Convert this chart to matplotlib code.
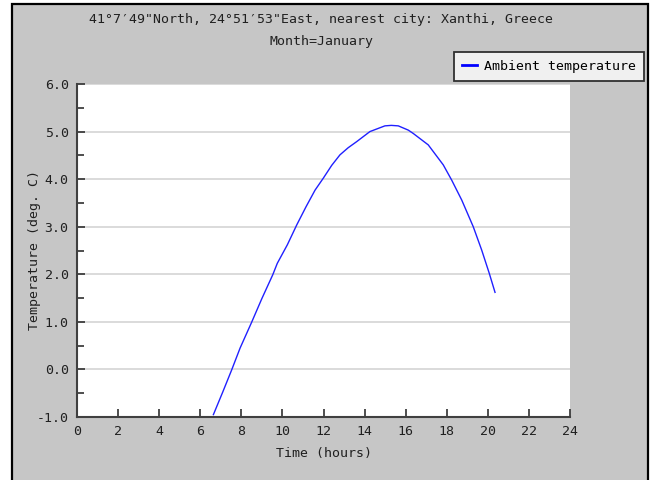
import matplotlib
matplotlib.use("Agg")
import matplotlib.pyplot as plt
from matplotlib.patches import Rectangle
from matplotlib.ticker import MultipleLocator, FormatStrFormatter

hours = [6.64, 7.1, 7.53, 7.94, 8.50, 9.0, 9.53, 9.75, 10.24, 10.70, 11.15, 11.59,
         11.99, 12.4, 12.80, 13.2, 13.62, 14.26, 14.99, 15.3, 15.64, 16.13, 16.37,
         17.10, 17.83, 18.24, 18.73, 19.29, 19.70, 20.07, 20.35]
temps = [-0.95, -0.47, -0.01, 0.45, 0.99, 1.49, 1.99, 2.23, 2.62, 3.04, 3.42, 3.77,
         4.02, 4.29, 4.51, 4.66, 4.79, 5.0, 5.12, 5.13, 5.12, 5.03, 4.96,
         4.72, 4.30, 3.98, 3.56, 3.0, 2.51, 2.02, 1.62]
series_name = "Ambient temperature"
title_lines = ["41°7′49\"North, 24°51′53\"East, nearest city: Xanthi, Greece",
               "Month=January"]
xlabel = "Time (hours)"
ylabel = "Temperature (deg. C)"

FONT = ["DejaVu Sans Mono", "DejaVu Sans"]
FS = 9.5
W, H = 655, 480
fig = plt.figure(figsize=(W / 100, H / 100), dpi=100)
fig.patch.set_facecolor("white")

# gray panel with border
fig.add_artist(Rectangle((11.5 / W, -0.02), (648 - 11.5) / W, 1.02 - 3.5 / H,
                         transform=fig.transFigure, facecolor="#c6c6c6",
                         edgecolor="black", linewidth=1.6, zorder=0))

ax = fig.add_axes([77 / W, 1 - 417 / H, (570 - 77) / W, (417 - 84) / H])
ax.set_facecolor("white")
ax.plot(hours, temps, color="#2020ff", linewidth=1.0, label=series_name)

ax.set_xlim(0, 24)
ax.set_ylim(-1, 6)
ax.xaxis.set_major_locator(MultipleLocator(2))
ax.yaxis.set_major_locator(MultipleLocator(1))
ax.yaxis.set_minor_locator(MultipleLocator(0.5))
ax.yaxis.set_major_formatter(FormatStrFormatter("%.1f"))
ax.grid(axis="y", which="major", color="#d4d4d4", linewidth=1.2)
ax.set_axisbelow(True)

for s in ["top", "right"]:
    ax.spines[s].set_visible(False)
for s in ["left", "bottom"]:
    ax.spines[s].set_color("#404040")
    ax.spines[s].set_linewidth(1.5)

ax.tick_params(axis="both", which="both", direction="in", color="#303030",
               width=1.2, labelsize=FS, labelcolor="#202020")
ax.tick_params(axis="both", which="major", length=6, pad=6)
ax.tick_params(axis="y", which="minor", length=5)
for lbl in ax.get_xticklabels() + ax.get_yticklabels():
    lbl.set_family(FONT)

ax.set_xlabel(xlabel, fontsize=FS, family=FONT, color="#202020", labelpad=6)
ax.set_ylabel(ylabel, fontsize=FS, family=FONT, color="#202020")
ax.yaxis.set_label_coords((35 - 77) / (570 - 77), 0.5)
ax.yaxis.label.set_va("center")

fig.text(321 / W, 1 - 20 / H, title_lines[0], ha="center", va="center",
         fontsize=FS, family=FONT, color="#202020")
fig.text(321 / W, 1 - 41 / H, title_lines[1], ha="center", va="center",
         fontsize=FS, family=FONT, color="#202020")

leg = ax.legend(loc="upper right", bbox_to_anchor=(644 / W, 1 - 52 / H),
                bbox_transform=fig.transFigure, fancybox=False, shadow=False,
                framealpha=1, facecolor="#f0f0f0", edgecolor="#303030",
                handlelength=1.2, handletextpad=0.5, borderpad=0.6,
                borderaxespad=0, prop={"family": FONT, "size": FS})
leg.get_frame().set_linewidth(1.3)
for line in leg.get_lines():
    line.set_linewidth(2.0)
    line.set_color("#0000ff")

fig.savefig("out.png", dpi=100)
